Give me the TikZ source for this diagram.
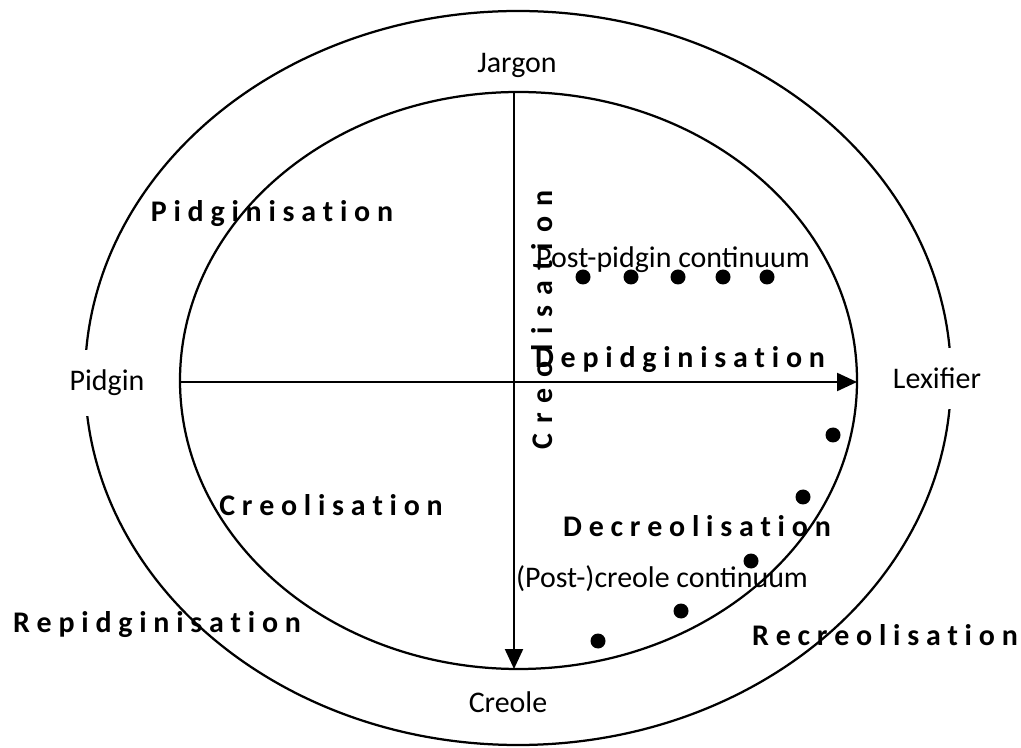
\documentclass[tikz,border=0pt]{standalone}
\usepackage{fontspec}
\setmainfont{Carlito}
\usetikzlibrary{arrows.meta,shapes.geometric}

\begin{document}
\begin{tikzpicture}[
  font=\fontsize{21.3}{25}\selectfont,
  ring/.style={draw,ellipse,line width=1.6pt,inner sep=0pt,outer sep=0pt},
  lbl/.style={anchor=base,inner sep=1pt},
  pole/.style={anchor=base,fill=white,inner xsep=2pt,inner ysep=5mm},
  proc/.style={anchor=base,inner sep=1pt,font=\fontsize{21.3}{25}\selectfont\bfseries},
  arr/.style={-{Triangle[length=5mm,width=4.5mm]},line width=1.6pt}
]
  \useasboundingbox (0,0) rectangle (25.525,18.675);

  % Ellipses
  \node[ring,minimum width=21.65cm,minimum height=18.35cm] (outer) at (12.95,9.225) {};
  \node[ring,minimum width=16.925cm,minimum height=14.425cm] (inner) at (12.9625,9.1625) {};

  % Axes
  \coordinate (jtop) at (12.85,16.375);
  \coordinate (cbot) at (12.85,1.95);
  \coordinate (pleft) at (4.5,9.125);
  \coordinate (lright) at (21.425,9.125);
  \draw[arr] (jtop) -- (cbot);
  \draw[arr] (pleft) -- (lright);

  % Poles
  \node[lbl] (jargon) at (12.925,16.85) {Jargon};
  \node[lbl] (creole) at (12.7,0.875) {Creole};
  \node[pole] (pidgin) at (2.675,8.9) {Pidgin};
  \node[pole] (lexifier) at (23.425,8.95) {Lexifier};

  % Processes
  \node[proc] (pidg) at (6.8,13.125) {P i d g i n i s a t i o n};
  \node[proc,rotate=90] (creolv) at (13.8,10.675)
    {\spaceskip=0.25cm\relax C r e o l i s a t i o n};
  \node[proc] (depidg) at (17.0,9.475) {D e p i d g i n i s a t i o n};
  \node[proc] (creolh) at (8.275,5.775) {C r e o l i s a t i o n};
  \node[proc] (decreol) at (17.425,5.275) {D e c r e o l i s a t i o n};
  \node[proc] (repidg) at (3.925,2.875) {R e p i d g i n i s a t i o n};
  \node[proc] (recreol) at (22.125,2.55) {R e c r e o l i s a t i o n};

  % Continua
  \node[lbl] (ppc) at (16.825,11.975) {Post-pidgin continuum};
  \node[lbl] (pcc) at (16.55,3.975) {(Post-)creole continuum};
  \foreach \x in {14.575,15.775,16.95,18.075,19.175}
    {\fill (\x,11.75) circle (0.1875);}
  \foreach \p in {(20.825,7.8),(20.075,6.25),(18.775,4.65),(17.025,3.4),(14.95,2.65)}
    {\fill \p circle (0.1875);}
\end{tikzpicture}
\end{document}
